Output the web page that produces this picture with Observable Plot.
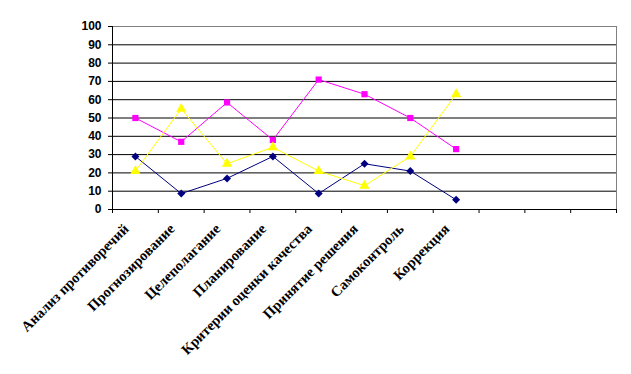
<!DOCTYPE html>
<html>
<head>
<meta charset="utf-8">
<script src="https://cdn.jsdelivr.net/npm/d3@7"></script>
<script src="https://cdn.jsdelivr.net/npm/@observablehq/plot@0.6"></script>
<style>
  html, body { margin: 0; padding: 0; background: #fff; }
  #chart svg { display: block; background: #fff; }
</style>
</head>
<body>
<div id="chart"></div>
<script>
const categories = [
  "Анализ противоречий",
  "Прогнозирование",
  "Целеполагание",
  "Планирование",
  "Критерии оценки качества",
  "Принятие решения",
  "Самоконтроль",
  "Коррекция"
];
const slotCount = 11;
const seriesNavy = [29, 8.7, 17, 29, 8.7, 25, 21, 5.3];
const seriesMagenta = [50, 37, 58.5, 38, 71, 63, 50, 33];
const seriesYellow = [21, 55, 25, 34, 21, 13, 29, 63];
const yTicks = [0, 10, 20, 30, 40, 50, 60, 70, 80, 90, 100];

const rows = (vals) => categories.map((c, i) => ({ i, c, v: vals[i] }));
const navy = rows(seriesNavy), magenta = rows(seriesMagenta), yellow = rows(seriesYellow);
const labelRows = categories.map((c, i) => ({ i, c }));
const xc = d => d.i + 0.5;

const chart = Plot.plot({
  width: 631,
  height: 374,
  marginLeft: 112,
  marginRight: 15,
  marginTop: 26,
  marginBottom: 165,
  x: { type: "linear", domain: [0, slotCount], axis: null },
  y: { domain: [0, 100], axis: null },
  marks: [
    Plot.frame({ stroke: "#808080" }),
    Plot.ruleY(yTicks.filter(v => v > 0 && v < 100), { stroke: "#000" }),
    Plot.ruleX([0], { stroke: "#000" }),
    Plot.ruleY([0], { stroke: "#000" }),
    Plot.axisY({ ticks: yTicks, tickSize: 4, tickPadding: 7, label: null,
      fontSize: 12, fontWeight: "bold", fontFamily: "Arial, 'Liberation Sans', sans-serif", stroke: "#000" }),
    Plot.axisX({ ticks: d3.range(slotCount + 1), tickSize: 4, tickFormat: () => "", label: null, stroke: "#000" }),
    Plot.text(labelRows, { x: xc, y: 0, text: "c", rotate: -45, textAnchor: "end",
      dx: -9, dy: 17, fontSize: 14.5, fontWeight: "bold",
      fontFamily: "'Times New Roman', 'Liberation Serif', serif", fill: "#000" }),
    Plot.line(navy, { x: xc, y: "v", stroke: "#000080", strokeWidth: 1 }),
    Plot.line(magenta, { x: xc, y: "v", stroke: "#FF00FF", strokeWidth: 1 }),
    Plot.line(yellow, { x: xc, y: "v", stroke: "#FFFF00", strokeWidth: 1 }),
    Plot.dot(navy, { x: xc, y: "v", symbol: "diamond2", r: 3.6, fill: "#000080", stroke: "none" }),
    Plot.dot(magenta, { x: xc, y: "v", symbol: "square", r: 3.5, fill: "#FF00FF", stroke: "none" }),
    Plot.dot(yellow, { x: xc, y: "v", symbol: "triangle", r: 3.8, fill: "#FFFF00", stroke: "none" })
  ]
});
document.getElementById("chart").append(chart);
</script>
</body>
</html>
